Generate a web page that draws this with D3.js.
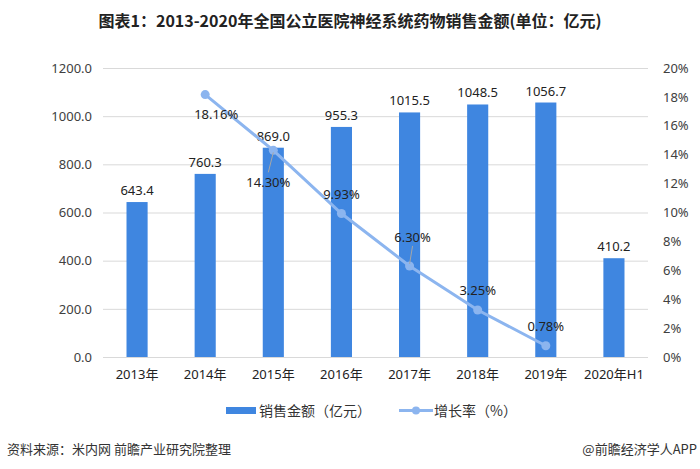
<!DOCTYPE html>
<html><head><meta charset="utf-8">
<script src="https://cdn.jsdelivr.net/npm/d3@7"></script>
<style>body{margin:0;background:#fff}svg{display:block;font-family:"Noto Sans","Noto Sans CJK SC",sans-serif}</style>
</head><body><svg id="c" width="700" height="469"></svg>
<script>
const categories = ["2013年","2014年","2015年","2016年","2017年","2018年","2019年","2020年H1"];
const salesValues = [643.4, 760.3, 869.0, 955.3, 1015.5, 1048.5, 1056.7, 410.2];
const growthValues = [null, 18.16, 14.30, 9.93, 6.30, 3.25, 0.78, null];
const leftTicks = [0, 200, 400, 600, 800, 1000, 1200];
const rightTicks = [0, 2, 4, 6, 8, 10, 12, 14, 16, 18, 20];
const growthLabelPlacement = [null, "belowRight", "belowLeader", "above", "aboveLeader", "above", "above", null];

const svg = d3.select("#c");
const barColor = "#3f86e0", lineColor = "#8cb5ef", textColor = "#404040", gridColor = "#d9d9d9";
const m = {left:103, right:648, top:68, bottom:357};

const x = d3.scaleBand().domain(categories).range([m.left, m.right]).paddingInner(0.69).paddingOuter(0.345);
const yL = d3.scaleLinear().domain([0,1200]).range([m.bottom, m.top]);
const yR = d3.scaleLinear().domain([0,20]).range([m.bottom, m.top]);

// title
svg.append("text").attr("x",350).attr("y",27).attr("text-anchor","middle")
  .attr("font-family","'Noto Sans CJK SC',sans-serif").attr("font-weight","bold").attr("font-size",16)
  .attr("fill","#222").text("图表1：2013-2020年全国公立医院神经系统药物销售金额(单位：亿元)");

// gridlines
svg.append("g").selectAll("line").data(leftTicks).join("line")
  .attr("x1",m.left).attr("x2",m.right).attr("y1",d=>yL(d)+0.5).attr("y2",d=>yL(d)+0.5)
  .attr("stroke",gridColor).attr("stroke-width",1);

// left axis
const axL = d3.axisLeft(yL).tickValues(leftTicks).tickFormat(d3.format(".1f")).tickSize(0).tickPadding(11);
const gL = svg.append("g").attr("transform",`translate(${m.left},0)`).call(axL);
gL.select(".domain").remove();
gL.selectAll("text").attr("font-size",13).attr("fill",textColor).attr("font-family","'Noto Sans',sans-serif");

// right axis
const axR = d3.axisRight(yR).tickValues(rightTicks).tickFormat(d=>d+"%").tickSize(0).tickPadding(15);
const gR = svg.append("g").attr("transform",`translate(${m.right},0)`).call(axR);
gR.select(".domain").remove();
gR.selectAll("text").attr("font-size",13).attr("fill",textColor).attr("font-family","'Noto Sans',sans-serif");

// x axis
const axX = d3.axisBottom(x).tickSize(0).tickPadding(13);
const gX = svg.append("g").attr("transform",`translate(0,${m.bottom})`).call(axX);
gX.select(".domain").remove();
gX.selectAll("text").attr("font-size",13).attr("fill","#222").attr("font-family","'Noto Sans','Noto Sans CJK SC',sans-serif");

// bars
svg.append("g").selectAll("rect").data(salesValues).join("rect")
  .attr("x",(d,i)=>x(categories[i])).attr("width",x.bandwidth())
  .attr("y",d=>yL(d)).attr("height",d=>yL(0)-yL(d)).attr("fill",barColor);

svg.append("g").selectAll("text").data(salesValues).join("text")
  .attr("x",(d,i)=>x(categories[i])+x.bandwidth()/2).attr("y",d=>yL(d)-7)
  .attr("text-anchor","middle").attr("font-size",13).attr("fill","#222")
  .text(d=>d3.format(".1f")(d));

// line
const pts = growthValues.map((v,i)=>({v,i})).filter(p=>p.v!=null);
const cx = p=>x(categories[p.i])+x.bandwidth()/2;
svg.append("path").datum(pts)
  .attr("d",d3.line().x(cx).y(p=>yR(p.v)))
  .attr("fill","none").attr("stroke",lineColor).attr("stroke-width",3);
svg.append("g").selectAll("circle").data(pts).join("circle")
  .attr("cx",cx).attr("cy",p=>yR(p.v)).attr("r",4.5).attr("fill",lineColor);

// growth labels
const off = {belowRight:[11,24], belowLeader:[-5,37], above:[0,-15], aboveLeader:[3,-24]};
const gl = svg.append("g");
pts.forEach(p=>{
  const pl = growthLabelPlacement[p.i];
  const [dx,dy] = off[pl];
  const px = cx(p), py = yR(p.v);
  if(pl==="belowLeader"){
    gl.append("line").attr("x1",px).attr("y1",py+2).attr("x2",px+dx).attr("y2",py+dy-15).attr("stroke","#a6a6a6").attr("stroke-width",1);
  }
  if(pl==="aboveLeader"){
    gl.append("line").attr("x1",px).attr("y1",py-2).attr("x2",px+dx).attr("y2",py+dy+4).attr("stroke","#a6a6a6").attr("stroke-width",1);
  }
  gl.append("text").attr("x",px+dx).attr("y",py+dy).attr("text-anchor","middle")
    .attr("font-size",13).attr("fill","#222").text(d3.format(".2f")(p.v)+"%");
});

// legend
const lg = svg.append("g").attr("font-family","'Noto Sans CJK SC',sans-serif");
lg.append("rect").attr("x",226).attr("y",407).attr("width",30).attr("height",7).attr("fill",barColor);
lg.append("text").attr("x",259).attr("y",416).attr("font-size",14).attr("fill","#333").text("销售金额（亿元）");
lg.append("line").attr("x1",399).attr("x2",433).attr("y1",410.5).attr("y2",410.5).attr("stroke",lineColor).attr("stroke-width",3);
lg.append("circle").attr("cx",416).attr("cy",410.5).attr("r",4).attr("fill",lineColor);
lg.append("text").attr("x",434).attr("y",416).attr("font-size",14).attr("fill","#333").text("增长率（%）");

// footer
svg.append("text").attr("x",7).attr("y",454).attr("font-size",13).attr("fill","#333")
  .attr("font-family","'Noto Sans CJK SC',sans-serif").text("资料来源：米内网 前瞻产业研究院整理");
svg.append("text").attr("x",697).attr("y",454).attr("text-anchor","end").attr("font-size",13).attr("fill","#333")
  .attr("font-family","'Noto Sans CJK SC',sans-serif").text("@前瞻经济学人APP");
</script></body></html>
